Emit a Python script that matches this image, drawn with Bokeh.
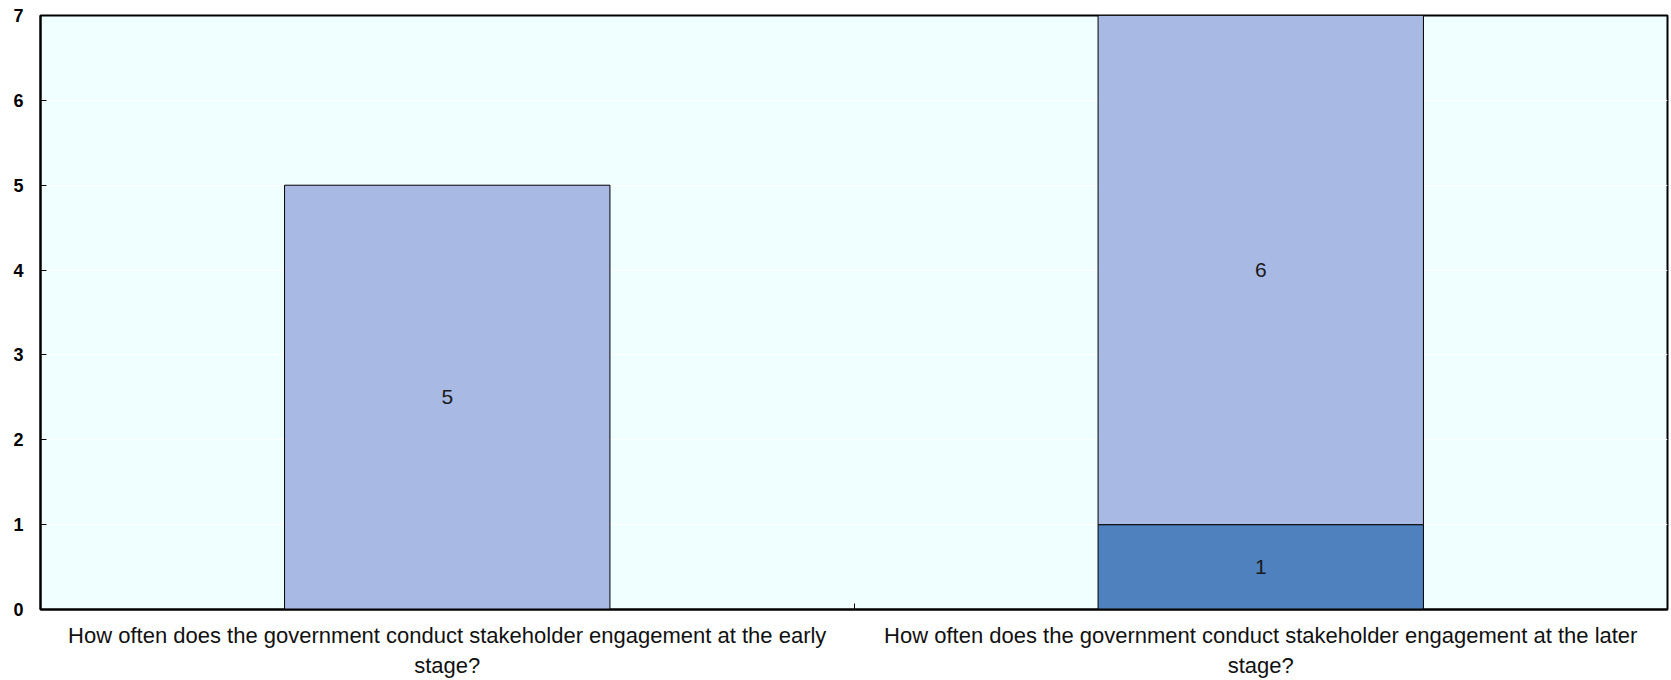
from bokeh.plotting import figure
from bokeh.models import ColumnDataSource, FixedTicker, Range1d
from bokeh.core.properties import value
from bokeh.embed import file_html
from bokeh.resources import INLINE

categories = [
    "How often does the government conduct stakeholder engagement at the early stage?",
    "How often does the government conduct stakeholder engagement at the later stage?",
]
tick_labels = [
    "How often does the government conduct stakeholder engagement at the early\nstage?",
    "How often does the government conduct stakeholder engagement at the later\nstage?",
]
series_names = ["s_dark", "s_light"]
series_dark = [0, 1]
series_light = [5, 6]
colors = ["#4E81BD", "#A8B9E3"]
y_ticks = [0, 1, 2, 3, 4, 5, 6, 7]

xs = [i + 0.5 for i in range(len(categories))]
src = ColumnDataSource(dict(x=xs, s_dark=series_dark, s_light=series_light))

p = figure(width=1671, height=680, output_backend="svg", toolbar_location=None,
           x_range=Range1d(0, len(categories)), y_range=Range1d(0, 7),
           min_border_left=40, min_border_right=4, min_border_top=15, min_border_bottom=69)
p.background_fill_color = "#F0FFFF"
p.border_fill_color = "white"
p.outline_line_color = "black"
p.outline_line_width = 2

p.vbar_stack(series_names, x="x", width=0.4, source=src, color=colors,
             line_color="black", line_width=1)

# labels
lx, ly, lt = [], [], []
for i in range(len(categories)):
    base = 0
    for vals in (series_dark, series_light):
        v = vals[i]
        if v:
            lx.append(xs[i]); ly.append(base + v / 2); lt.append(str(v))
        base += v
p.text(x=lx, y=ly, text=lt, text_align="center", text_baseline="middle",
       text_font=value("Liberation Sans"), text_font_size="21px", text_color="#1a1a1a")

p.xgrid.visible = False
p.ygrid.grid_line_color = "white"
p.ygrid.grid_line_width = 1
p.ygrid.ticker = FixedTicker(ticks=y_ticks)

p.yaxis.ticker = FixedTicker(ticks=y_ticks)
p.yaxis.major_tick_in = 6
p.yaxis.major_tick_out = 0
p.yaxis.major_tick_line_width = 1
p.yaxis.minor_tick_line_color = None
p.yaxis.axis_line_color = "black"
p.yaxis.axis_line_width = 2
p.yaxis.major_label_text_font = "Liberation Sans"
p.yaxis.major_label_text_font_style = "bold"
p.yaxis.major_label_text_font_size = "18px"
p.yaxis.major_label_text_color = "black"
p.yaxis.major_label_standoff = 17

p.xaxis.ticker = FixedTicker(ticks=xs, minor_ticks=list(range(0, len(categories) + 1)))
p.xaxis.major_label_overrides = {x: t for x, t in zip(xs, tick_labels)}
p.xaxis.major_tick_line_color = None
p.xaxis.major_tick_in = 0
p.xaxis.major_tick_out = 0
p.xaxis.minor_tick_in = 6
p.xaxis.minor_tick_out = 0
p.xaxis.minor_tick_line_color = "black"
p.xaxis.minor_tick_line_width = 1
p.xaxis.axis_line_color = "black"
p.xaxis.axis_line_width = 2
p.xaxis.major_label_text_font = "Liberation Sans"
p.xaxis.major_label_text_font_size = "22px"
p.xaxis.major_label_text_line_height = 1.2
p.xaxis.major_label_text_color = "#111111"
p.xaxis.major_label_standoff = 13

open("out.html", "w").write(file_html(p, INLINE))
